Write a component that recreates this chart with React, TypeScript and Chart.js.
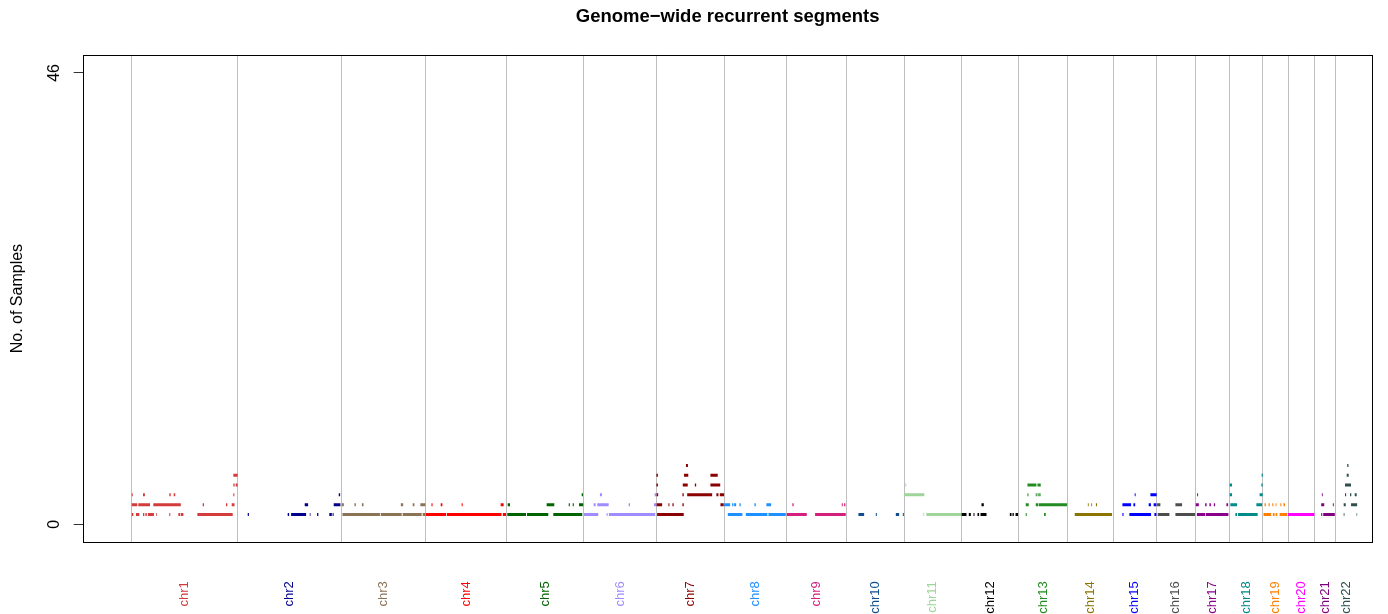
import { useEffect, useRef } from 'react';
import { Chart, registerables } from 'chart.js';

Chart.register(...registerables);

// ---------- data ----------
const chrNames = ['chr1','chr2','chr3','chr4','chr5','chr6','chr7','chr8','chr9','chr10','chr11','chr12','chr13','chr14','chr15','chr16','chr17','chr18','chr19','chr20','chr21','chr22'];
const chrLengthsMb = [249.25, 243.2, 198.02, 191.15, 180.92, 171.12, 159.14, 146.36, 141.21, 135.53, 135.01, 133.85, 115.17, 107.35, 102.53, 90.35, 81.2, 78.08, 59.13, 63.03, 48.13, 51.3];
const chrColors = ['#D43B3B','#00008B','#8B7355','#FF0000','#006400','#9F8CFF','#8B0000','#1E90FF','#D41F7F','#104E8B','#9FD49A','#000000','#228B22','#8B7500','#0000FF','#4D4D4D','#8B008B','#008B8B','#FF7F00','#FF00FF','#7F007F','#2F4F4F'];
const yTickValues = [0, 46];

// segments: [no. of samples, start Mb, end Mb] (positions within the chromosome)
const chr1Segs = [[1,0,3.8],[1,10.1,17.9],[1,26.6,29.7],[1,32.2,35.5],[1,38.1,52.2],[1,57.1,58.8],[1,88.4,90.7],[1,109.7,113.6],[1,115.2,121.5],[1,154.4,237.5],[2,0,13.2],[2,15.5,43],[2,50.8,115.4],[2,166.9,170],[2,221.7,224.8],[2,235.1,241.7],[3,0,2.4],[3,26.6,31],[3,45.4,47.7],[3,88.4,91.7],[3,98.7,102.4],[3,238.9,241.3],[4,238.9,242],[4,244.5,249],[5,238.9,249]];
const chr2Segs = [[1,23.5,26.3],[1,117.5,120.9],[1,125.5,160.8],[1,163.1,164.5],[1,169.4,171.1],[1,186.6,189.6],[1,215.3,221.2],[1,223.1,225.4],[2,157.5,165.5],[2,225.7,241.5],[3,237.5,240.8]];
const chr3Segs = [[1,3,91.2],[1,93,142.3],[1,144.6,189.3],[1,191.7,197.5],[2,1.6,6.3],[2,31.3,34.5],[2,48.7,52.5],[2,140.3,145.8],[2,168.2,172.2],[2,186.2,198]];
const chr4Segs = [[1,0.7,48.6],[1,50.5,179],[1,182,189.6],[2,14.3,16.9],[2,36,40],[2,85.3,87.7],[2,177,184]];
const chr5Segs = [[1,1.4,45.4],[1,47.7,97.8],[1,109.6,177.7],[2,2.4,7.8],[2,94,111.9],[2,145.8,148.5],[2,155.2,157.8],[2,170,180],[3,176.3,179.4]];
const chr6Segs = [[1,0.7,34.3],[1,54,56.4],[1,59.5,168.3],[2,23.5,28.2],[2,32,58.8],[2,105.8,109],[2,165.3,171],[3,38.3,43],[3,166.9,171]];
const chr7Segs = [[1,1.6,64.2],[2,0,13.4],[2,28.2,30.5],[2,37.6,40.5],[2,61.1,64.2],[2,150.5,158.3],[3,0,4.1],[3,61.1,64.2],[3,72.3,131],[3,141,145.8],[3,149,159],[4,0,3.5],[4,61.9,73.6],[4,90.3,93.4],[4,126.9,150],[5,0,3.5],[5,64.9,74.9],[5,126.9,144.1],[6,69.4,74.1]];
const chr8Segs = [[1,8.7,43],[1,51,101.8],[1,104.2,145],[2,0,14.1],[2,18.8,21.9],[2,23.5,28.2],[2,36,39],[2,71.3,74.5],[2,99.4,110.5]];
const chr9Segs = [[1,0.9,48],[1,67.5,139.6],[2,14.1,17],[2,130.2,132.6],[2,135.7,138.7]];
const chr10Segs = [[1,28.2,41.6],[1,69.1,71.5],[1,116.1,123.9],[1,132.6,135]];
const chr11Segs = [[1,45.4,47.2],[1,52.4,134.5],[2,119.9,121.8],[3,0,47.7],[4,3.1,5],[4,14.1,16]];
const chr12Segs = [[1,0,11.8],[1,17.2,21.9],[1,28.2,30.5],[1,37.6,41.4],[1,44.7,58.8],[1,113.6,117.6],[1,119.9,123],[1,127,133],[2,47,52.4]];
const chr13Segs = [[1,17.2,19.5],[1,60.2,64.2],[2,17.2,24.2],[2,40.7,47],[2,48.4,114.3],[3,21.2,23.5],[3,40.7,43],[3,45.1,47.5],[3,49,52],[4,21.2,42.3],[4,44.7,52.4]];
const chr14Segs = [[1,17.2,104.9],[2,48,50],[2,56,58],[2,67,69.5]];
const chr15Segs = [[1,21.9,24.5],[1,38.3,89.3],[1,97.1,101.8],[2,21.9,42.3],[2,47.7,52],[2,83.7,89],[2,95.4,101.8],[3,50.8,53],[3,87.7,102.5]];
const chr16Segs = [[1,2.4,29.9],[1,44,90],[2,0.9,8.7],[2,44,59.7]];
const chr17Segs = [[1,4,23.5],[1,25,78.3],[2,1.6,8.7],[2,23.5,27],[2,33.6,37],[2,44,47],[2,68.2,70],[2,73.6,77.6],[3,4.7,7]];
const chr18Segs = [[1,13.4,17.4],[1,19.7,65.8],[2,1.6,17.4],[2,62.8,76.2],[3,0,5.6],[3,70.5,77.6],[4,0,5.6],[4,74.5,77.6],[5,75.2,78]];
const chr19Segs = [[1,1.6,19.7],[1,23.5,27.5],[1,29.9,33.9],[1,39.3,57.4],[2,4,7],[2,13.4,16],[2,22.1,24.5],[2,29.9,32],[2,41.1,43.5],[2,48.6,52]];
const chr20Segs = [[1,0,62]];
const chr21Segs = [[1,15,17.4],[1,19.7,47],[2,15,22.1],[2,42.3,44.5],[3,16.5,18.5]];
const chr22Segs = [[1,19.7,21.5],[1,50,51.3],[2,19.7,24.5],[2,37,51.3],[3,22.8,25.5],[3,34.6,37.6],[3,45.6,50.3],[4,22.8,36.9],[5,26.8,31.5],[6,28,31]];

const chrSegments = [chr1Segs, chr2Segs, chr3Segs, chr4Segs, chr5Segs, chr6Segs, chr7Segs, chr8Segs, chr9Segs, chr10Segs, chr11Segs, chr12Segs, chr13Segs, chr14Segs, chr15Segs, chr16Segs, chr17Segs, chr18Segs, chr19Segs, chr20Segs, chr21Segs, chr22Segs];

// ---------- derived ----------
const chrOffsets: number[] = [];
chrLengthsMb.reduce((acc, len) => { chrOffsets.push(acc); return acc + len; }, 0);

const xTickValues: number[] = [];
chrNames.forEach((_, i) => {
  xTickValues.push(chrOffsets[i]);
  xTickValues.push(chrOffsets[i] + chrLengthsMb[i] / 2);
});

const FONT = '"Liberation Sans", Arial, Helvetica, sans-serif';

const boxPlugin = {
  id: 'plotBox',
  afterDraw(chart: any) {
    const { ctx, chartArea: a } = chart;
    ctx.save();
    ctx.strokeStyle = '#000';
    ctx.lineWidth = 1;
    const l = Math.round(a.left) + 0.5;
    const t = Math.round(a.top) + 0.5;
    const r = Math.round(a.right) + 0.5;
    const b = Math.round(a.bottom) + 0.5;
    ctx.strokeRect(l, t, r - l, b - t);
    ctx.restore();
  },
};

export default function App() {
  const ref = useRef<HTMLCanvasElement>(null);

  useEffect(() => {
    if (!ref.current) return;
    Chart.defaults.font.family = FONT;

    const datasets = chrSegments.map((segs, i) => {
      const off = chrOffsets[i];
      const data: any[] = [];
      segs.forEach(([lvl, s, e]) => {
        data.push({ x: off + s, y: lvl });
        data.push({ x: off + e, y: lvl });
        data.push({ x: off + e, y: null });
      });
      return {
        label: chrNames[i],
        data,
        borderColor: chrColors[i],
        backgroundColor: chrColors[i],
        borderWidth: 3,
        borderCapStyle: 'butt' as const,
        pointRadius: 0,
        pointHoverRadius: 0,
        spanGaps: false,
        tension: 0,
        fill: false,
      };
    });

    const chart = new Chart(ref.current, {
      type: 'line',
      data: { datasets },
      plugins: [boxPlugin],
      options: {
        animation: false,
        responsive: false,
        devicePixelRatio: 1,
        events: [],
        layout: { padding: { left: 0, right: 16, top: 0, bottom: 0 } },
        plugins: {
          legend: { display: false },
          tooltip: { enabled: false },
          title: {
            display: true,
            text: 'Genome\u2212wide recurrent segments',
            color: '#000',
            fullSize: false,
            font: { family: FONT, size: 18.5, weight: 'bold' },
            padding: { top: 6, bottom: 26.7 },
          },
        },
        scales: {
          x: {
            type: 'linear',
            min: -113.8,
            max: 2916,
            afterBuildTicks: (scale: any) => {
              scale.ticks = xTickValues.map((v) => ({ value: v }));
            },
            afterFit: (scale: any) => { scale.height = 71.7; },
            ticks: {
              autoSkip: false,
              minRotation: 90,
              maxRotation: 90,
              padding: 3,
              font: { family: FONT, size: 13 },
              color: (ctx: any) => (ctx.index % 2 === 1 ? chrColors[(ctx.index - 1) / 2] : 'rgba(0,0,0,0)'),
              callback: (_v: any, index: number) => (index % 2 === 1 ? chrNames[(index - 1) / 2] : ''),
            },
            grid: {
              drawOnChartArea: true,
              drawTicks: true,
              tickLength: 36,
              tickColor: 'rgba(0,0,0,0)',
              lineWidth: 1,
              color: (ctx: any) => (ctx.index % 2 === 0 ? '#BEBEBE' : 'rgba(0,0,0,0)'),
            },
            border: { display: false },
          },
          y: {
            type: 'linear',
            min: -1.84,
            max: 47.84,
            afterBuildTicks: (scale: any) => {
              scale.ticks = yTickValues.map((v) => ({ value: v }));
            },
            afterFit: (scale: any) => { scale.width = 83.3; },
            ticks: {
              autoSkip: false,
              minRotation: 90,
              maxRotation: 90,
              crossAlign: 'center',
              padding: 9.8,
              color: '#000',
              font: { family: FONT, size: 16 },
              callback: (v: any) => String(v),
            },
            grid: {
              drawOnChartArea: false,
              drawTicks: true,
              tickLength: 9.6,
              tickColor: '#333',
              lineWidth: 1,
            },
            border: { display: false },
            title: {
              display: true,
              text: 'No. of Samples',
              color: '#000',
              font: { family: FONT, size: 16 },
              padding: { top: 8.4, bottom: 0 },
            },
          },
        },
      } as any,
    });

    return () => chart.destroy();
  }, []);

  return (
    <div style={{ position: 'absolute', left: 0, top: 0, width: 1388, height: 614, background: '#fff' }}>
      <canvas ref={ref} width={1388} height={614} style={{ display: 'block', width: 1388, height: 614 }} />
    </div>
  );
}
